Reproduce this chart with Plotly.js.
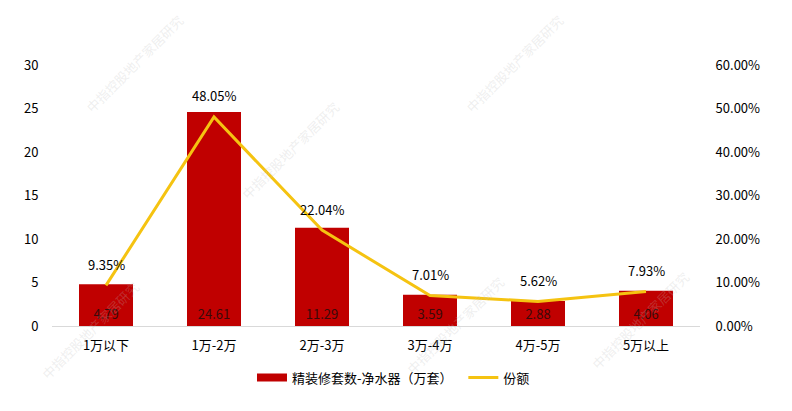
<!DOCTYPE html>
<html><head><meta charset="utf-8">
<script src="https://cdn.plot.ly/plotly-3.0.1.min.js"></script>
<style>html,body{margin:0;padding:0;background:#fff;}#chart{width:792px;height:411px;}</style>
</head><body><div id="chart"></div>
<script>
const categories = ['1万以下','1万-2万','2万-3万','3万-4万','4万-5万','5万以上'];
const units = [4.79, 24.61, 11.29, 3.59, 2.88, 4.06];
const shares = [9.35, 48.05, 22.04, 7.01, 5.62, 7.93];
const leftTicks = [0,5,10,15,20,25,30];
const rightTicks = [0,10,20,30,40,50,60];
const barName = '精装修套数-净水器（万套）';
const lineName = '份额';
const watermark = '中指控股地产家居研究';

const fam = '"Noto Sans CJK SC", "Noto Sans", sans-serif';
const font = {family: fam, size: 13, color: '#000'};

const traces = [
  {type:'bar', x:categories, y:units, name:barName, showlegend:false,
   marker:{color:'#C00000'}, text:units.map(v=>v.toFixed(2)), textposition:'inside',
   insidetextanchor:'start', textfont:{family:fam,size:13,color:'#3a0a0a'},
   cliponaxis:false, hoverinfo:'none'},
  {type:'scatter', mode:'lines', x:[categories[0]], y:[null], name:barName + '\u00a0\u00a0',
   line:{color:'#C00000', width:8}, hoverinfo:'none'},
  {type:'scatter', mode:'lines', x:categories, y:shares, yaxis:'y2', name:lineName,
   line:{color:'#F5C311', width:3}, cliponaxis:false, hoverinfo:'none'}
];

const ann = shares.map((v,i)=>({x:categories[i], y:v, xref:'x', yref:'y2', yshift:21,
  text:v.toFixed(2)+'%', showarrow:false, font:{family:fam,size:13,color:'#000'}}));

const wmPos = [[135,64],[290,150],[515,64],[90,330],[455,325],[640,320]];
wmPos.forEach(p=>ann.push({xref:'paper',yref:'paper',x:(p[0]-52)/648,y:(326-p[1])/261,
  xanchor:'center', yanchor:'middle',
  text:watermark,showarrow:false,textangle:-45,
  font:{family:fam,size:13,color:'rgba(190,190,190,0.25)'}}));

const layout = {
  width:792, height:411, margin:{l:52,r:92,t:65,b:85},
  paper_bgcolor:'#fff', plot_bgcolor:'#fff', font:font,
  bargap:0.5, showlegend:true,
  legend:{orientation:'h', x:0.527, xanchor:'center', y:-0.14, yanchor:'top',
    font:{family:fam,size:13,color:'#000'}, traceorder:'normal'},
  xaxis:{showline:true, linecolor:'#d9d9d9', linewidth:1, ticks:'outside', ticklen:7,
    tickcolor:'rgba(0,0,0,0)', showgrid:false, zeroline:false, fixedrange:true},
  yaxis:{range:[0,30], tickvals:leftTicks, showgrid:false, zeroline:false, showline:false,
    ticks:'outside', ticklen:10, tickcolor:'rgba(0,0,0,0)'},
  yaxis2:{range:[0,60], overlaying:'y', side:'right', tickvals:rightTicks,
    ticktext:rightTicks.map(v=>v.toFixed(2)+'%'), showgrid:false, zeroline:false,
    showline:false, ticks:'outside', ticklen:12, tickcolor:'rgba(0,0,0,0)'},
  annotations: ann
};
Plotly.newPlot('chart', traces, layout, {displayModeBar:false, staticPlot:true});
</script></body></html>
